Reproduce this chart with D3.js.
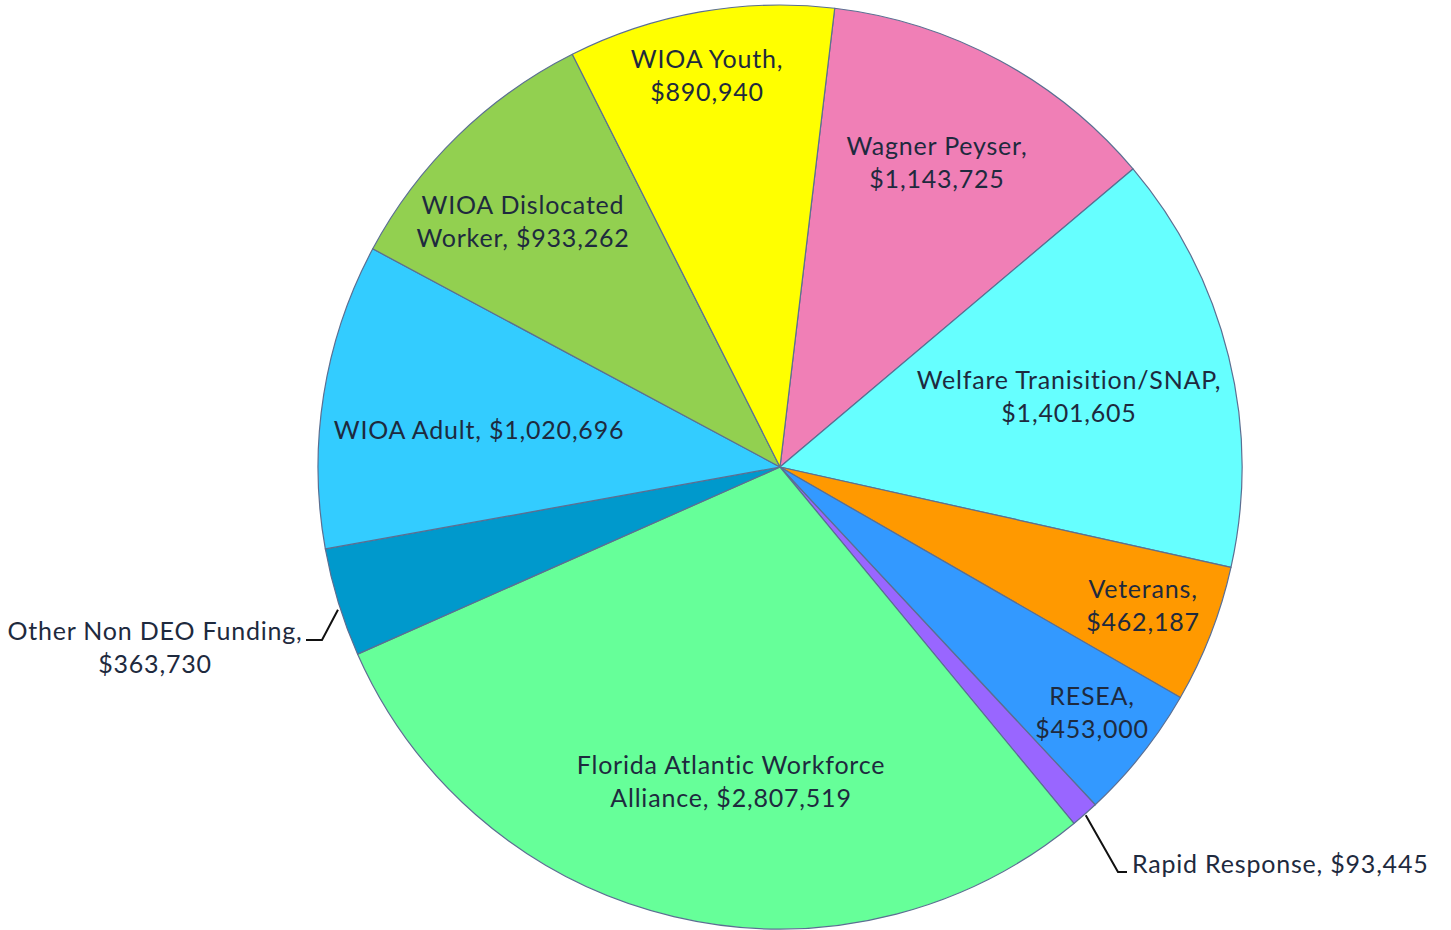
<!DOCTYPE html>
<html>
<head>
<meta charset="utf-8">
<script src="https://cdn.jsdelivr.net/npm/d3@7"></script>
<style>
  html, body { margin: 0; padding: 0; background: #fff; }
  svg { display: block; }
  .lbl { font-family: Lato, "Open Sans", sans-serif; font-size: 25px; font-weight: 400; letter-spacing: 0.8px; fill: #1e2a3e; }
</style>
</head>
<body>
<svg id="chart" width="1451" height="930"></svg>
<script>
// --- data ---
const names = ["Wagner Peyser", "Welfare Tranisition/SNAP", "Veterans", "RESEA", "Rapid Response",
  "Florida Atlantic Workforce Alliance", "Other Non DEO Funding", "WIOA Adult", "WIOA Dislocated Worker", "WIOA Youth"];
const amounts = [1143725, 1401605, 462187, 453000, 93445, 2807519, 363730, 1020696, 933262, 890940];
const colors = ["#f07fb6", "#66ffff", "#ff9900", "#3399ff", "#9966ff", "#66ff99", "#0099cc", "#33ccff", "#92d050", "#ffff00"];

// label text lines (as printed in the chart)
const labelLines = [
  ["Wagner Peyser,", "$1,143,725"],
  ["Welfare Tranisition/SNAP,", "$1,401,605"],
  ["Veterans,", "$462,187"],
  ["RESEA,", "$453,000"],
  ["Rapid Response, $93,445"],
  ["Florida Atlantic Workforce", "Alliance, $2,807,519"],
  ["Other Non DEO Funding,", "$363,730"],
  ["WIOA Adult, $1,020,696"],
  ["WIOA Dislocated", "Worker, $933,262"],
  ["WIOA Youth,", "$890,940"]
];

// --- layout ---
const cx = 780, cy = 467, R = 462;
const startDeg = 6.8;
// label centre positions (layout only)
const labelPos = [[937, 163], [1069, 397], [1143, 606], [1092, 713], [1132, 864],
  [731, 782], [155, 648], [479, 430], [523, 222], [707, 76]];
const lineH = 33;

const svg = d3.select("#chart");
const g = svg.append("g").attr("transform", `translate(${cx},${cy})`);

const pie = d3.pie().sort(null).value(d => d)
  .startAngle(startDeg * Math.PI / 180)
  .endAngle(startDeg * Math.PI / 180 + 2 * Math.PI);
const arcs = pie(amounts);
const arc = d3.arc().innerRadius(0).outerRadius(R);

g.selectAll("path.slice")
  .data(arcs)
  .enter().append("path").attr("class", "slice")
  .attr("d", arc)
  .attr("fill", (d, i) => colors[i])
  .attr("stroke", "#5b6f92")
  .attr("stroke-width", 1.2)
  .attr("stroke-linejoin", "round");

// leader lines for small outside labels
function edgePoint(d, frac) {
  const a = d.startAngle + (d.endAngle - d.startAngle) * frac;
  return [cx + Math.sin(a) * R, cy - Math.cos(a) * R];
}
const otherIdx = 6, rapidIdx = 4;
const pOther = edgePoint(arcs[otherIdx], 0.45);
svg.append("path")
  .attr("d", d3.line()([[pOther[0] - 2, pOther[1] + 2], [322, 640], [306, 640]]))
  .attr("fill", "none").attr("stroke", "#111").attr("stroke-width", 2);
const pRapid = edgePoint(arcs[rapidIdx], 0.5);
svg.append("path")
  .attr("d", d3.line()([[pRapid[0] + 1, pRapid[1] + 1], [1118, 872], [1127, 872]]))
  .attr("fill", "none").attr("stroke", "#111").attr("stroke-width", 2);

// labels
arcs.forEach((d, i) => {
  const lines = labelLines[i];
  const [x, y] = labelPos[i];
  const anchor = i === rapidIdx ? "start" : "middle";
  const t = svg.append("text").attr("class", "lbl")
    .attr("text-anchor", anchor)
    .attr("x", x)
    .attr("y", y - (lines.length - 1) * lineH / 2);
  lines.forEach((ln, k) => {
    t.append("tspan").attr("x", x).attr("dy", k === 0 ? "0.35em" : lineH).text(ln);
  });
});
</script>
</body>
</html>
